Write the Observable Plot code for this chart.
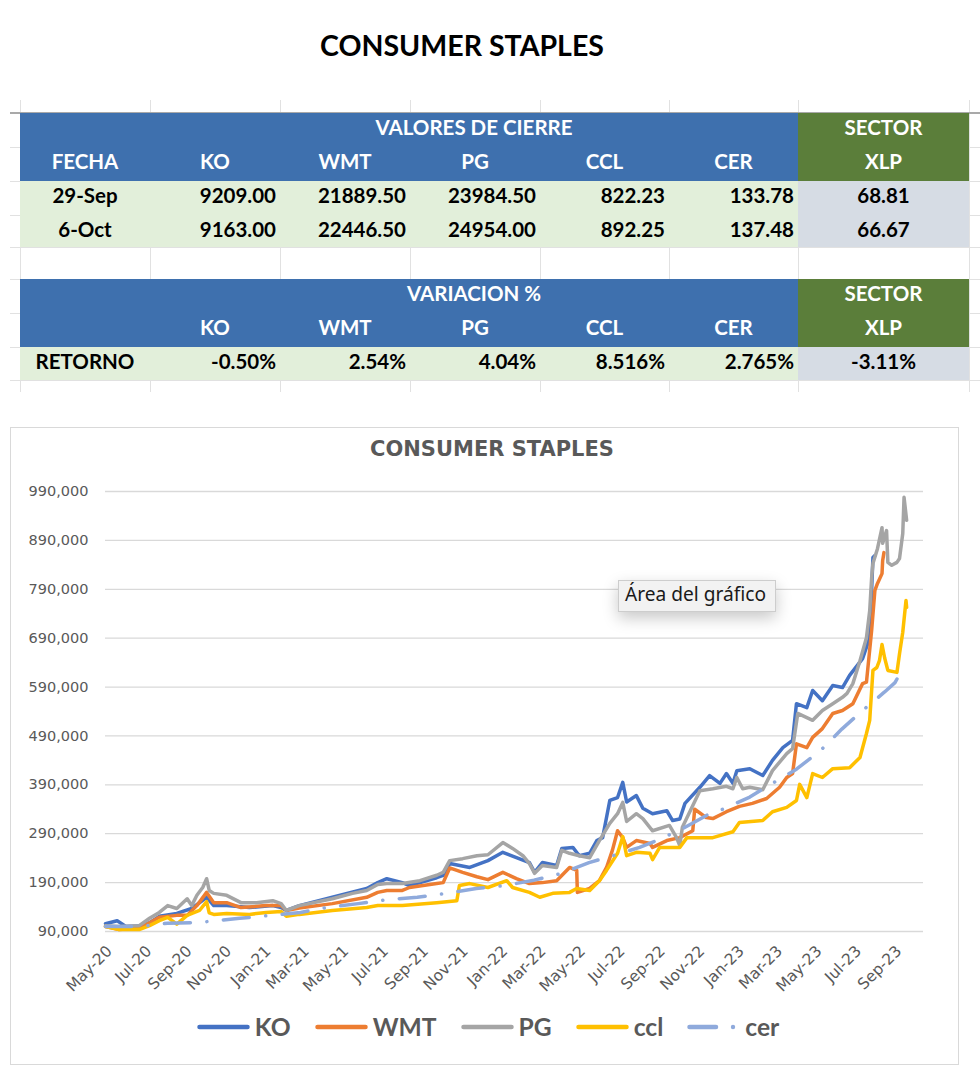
<!DOCTYPE html>
<html><head><meta charset="utf-8">
<script src="https://cdn.jsdelivr.net/npm/d3@7"></script>
<script src="https://cdn.jsdelivr.net/npm/@observablehq/plot@0.6"></script>
<style>
html,body{margin:0;padding:0;background:#fff;}
#page{position:relative;width:980px;height:1082px;overflow:hidden;font-family:Lato,sans-serif;}
#page div{box-sizing:border-box;}
</style></head>
<body><div id="page"></div>
<script>
// ---------- table data ----------
const tickers = ["KO","WMT","PG","CCL","CER"];
const fechas = ["29-Sep","6-Oct"];
const cierre29Sep = [9209.00, 21889.50, 23984.50, 822.23, 133.78];
const cierre6Oct = [9163.00, 22446.50, 24954.00, 892.25, 137.48];
const xlpCierre = [68.81, 66.67];
const retornos = ["-0.50%","2.54%","4.04%","8.516%","2.765%"];
const xlpRetorno = "-3.11%";

// ---------- chart data ----------
const xTickDates = ["2020-05-01","2020-07-01","2020-09-01","2020-11-01","2021-01-01","2021-03-01","2021-05-01","2021-07-01","2021-09-01","2021-11-01","2022-01-01","2022-03-01","2022-05-01","2022-07-01","2022-09-01","2022-11-01","2023-01-01","2023-03-01","2023-05-01","2023-07-01","2023-09-01"];
const yTickValues = [90000,190000,290000,390000,490000,590000,690000,790000,890000,990000];

const koSeries = [["2020-05-01",106000],["2020-05-19",112000],["2020-06-02",100000],["2020-06-22",101000],["2020-07-08",108000],["2020-07-23",121000],["2020-08-19",127000],["2020-09-11",137000],["2020-10-04",160000],["2020-10-15",143000],["2020-11-04",143000],["2020-12-09",139000],["2021-01-14",143000],["2021-01-27",139000],["2021-02-04",133000],["2021-02-24",143000],["2021-04-16",160000],["2021-06-08",178000],["2021-06-25",190000],["2021-07-09",198000],["2021-08-02",190000],["2021-08-13",184000],["2021-09-24",200000],["2021-10-04",205000],["2021-10-14",229000],["2021-11-14",221000],["2021-12-12",235000],["2022-01-04",252000],["2022-01-25",241000],["2022-02-14",231000],["2022-02-22",211000],["2022-03-06",231000],["2022-03-28",225000],["2022-04-05",260000],["2022-04-22",262000],["2022-05-02",245000],["2022-05-18",250000],["2022-05-29",276000],["2022-06-07",282000],["2022-06-18",358000],["2022-06-30",364000],["2022-07-08",395000],["2022-07-14",355000],["2022-07-29",368000],["2022-08-08",342000],["2022-08-23",331000],["2022-09-14",337000],["2022-09-23",317000],["2022-10-04",320000],["2022-10-12",352000],["2022-11-04",385000],["2022-11-19",409000],["2022-12-05",393000],["2022-12-15",413000],["2022-12-25",393000],["2022-12-31",419000],["2023-01-20",423000],["2023-02-09",409000],["2023-02-24",440000],["2023-03-12",466000],["2023-03-27",481000],["2023-04-02",556000],["2023-04-18",548000],["2023-04-27",583000],["2023-05-12",562000],["2023-05-28",593000],["2023-06-12",589000],["2023-06-23",614000],["2023-07-13",648000],["2023-07-24",691000],["2023-07-29",855000],["2023-08-01",859000]];

const wmtSeries = [["2020-05-01",100000],["2020-05-22",94000],["2020-06-22",97000],["2020-07-08",108000],["2020-07-23",119000],["2020-08-19",123000],["2020-09-04",123000],["2020-09-19",143000],["2020-10-04",170000],["2020-10-15",149000],["2020-11-04",149000],["2020-11-26",139000],["2021-01-04",143000],["2021-01-27",143000],["2021-02-04",133000],["2021-02-24",138000],["2021-04-16",147000],["2021-06-08",160000],["2021-06-25",170000],["2021-07-09",174000],["2021-08-02",174000],["2021-08-13",180000],["2021-09-24",188000],["2021-10-04",190000],["2021-10-14",220000],["2021-11-03",211000],["2021-11-25",202000],["2021-12-12",196000],["2022-01-04",211000],["2022-01-25",198000],["2022-02-14",188000],["2022-03-06",190000],["2022-03-28",194000],["2022-04-17",221000],["2022-04-28",215000],["2022-04-29",170000],["2022-05-18",178000],["2022-06-02",194000],["2022-06-13",221000],["2022-06-22",256000],["2022-06-30",296000],["2022-07-08",282000],["2022-07-14",262000],["2022-07-29",276000],["2022-08-19",270000],["2022-08-23",262000],["2022-09-14",276000],["2022-10-04",282000],["2022-10-24",296000],["2022-10-27",340000],["2022-11-14",323000],["2022-11-24",321000],["2022-12-15",335000],["2023-01-04",346000],["2023-01-24",352000],["2023-02-15",362000],["2023-03-07",385000],["2023-03-18",405000],["2023-03-27",413000],["2023-04-02",474000],["2023-04-18",466000],["2023-04-27",487000],["2023-05-12",505000],["2023-05-28",536000],["2023-06-12",542000],["2023-06-28",556000],["2023-07-13",597000],["2023-07-19",600000],["2023-07-27",706000],["2023-08-01",788000],["2023-08-05",802000],["2023-08-12",822000],["2023-08-13",849000],["2023-08-15",865000]];

const pgSeries = [["2020-05-01",102000],["2020-05-22",100000],["2020-06-22",102000],["2020-07-08",117000],["2020-07-23",129000],["2020-08-05",143000],["2020-08-19",137000],["2020-09-04",157000],["2020-09-11",143000],["2020-09-19",164000],["2020-09-28",180000],["2020-10-04",198000],["2020-10-08",174000],["2020-10-15",168000],["2020-11-04",164000],["2020-11-26",149000],["2020-12-20",149000],["2021-01-14",153000],["2021-01-27",147000],["2021-02-04",133000],["2021-02-24",143000],["2021-04-16",157000],["2021-05-17",168000],["2021-06-08",174000],["2021-06-25",186000],["2021-07-09",188000],["2021-08-02",188000],["2021-08-29",194000],["2021-09-24",205000],["2021-10-04",211000],["2021-10-14",235000],["2021-11-03",239000],["2021-11-25",245000],["2021-12-12",247000],["2022-01-04",272000],["2022-01-19",260000],["2022-02-04",245000],["2022-02-14",229000],["2022-02-22",209000],["2022-03-06",225000],["2022-03-28",221000],["2022-04-05",256000],["2022-04-17",250000],["2022-05-02",245000],["2022-05-18",241000],["2022-06-02",276000],["2022-06-18",311000],["2022-06-30",331000],["2022-07-08",354000],["2022-07-14",315000],["2022-07-29",331000],["2022-08-08",321000],["2022-08-23",296000],["2022-09-18",307000],["2022-09-29",282000],["2022-10-04",266000],["2022-10-08",303000],["2022-11-04",378000],["2022-11-24",382000],["2022-12-15",387000],["2022-12-25",382000],["2022-12-31",405000],["2023-01-09",382000],["2023-01-20",385000],["2023-02-09",380000],["2023-02-24",419000],["2023-03-18",454000],["2023-03-27",464000],["2023-04-04",536000],["2023-04-27",522000],["2023-05-12",542000],["2023-05-28",556000],["2023-06-12",569000],["2023-06-19",577000],["2023-06-28",597000],["2023-07-09",644000],["2023-07-19",691000],["2023-07-24",746000],["2023-07-27",814000],["2023-07-29",843000],["2023-08-05",873000],["2023-08-12",916000],["2023-08-13",884000],["2023-08-19",910000],["2023-08-21",845000],["2023-08-27",839000],["2023-09-04",845000],["2023-09-08",853000],["2023-09-13",904000],["2023-09-15",978000],["2023-09-19",931000]];

const cclSeries = [["2020-05-01",100000],["2020-05-22",94000],["2020-06-22",94000],["2020-07-08",102000],["2020-07-23",112000],["2020-08-05",119000],["2020-08-19",105000],["2020-09-04",123000],["2020-09-23",133000],["2020-10-04",151000],["2020-10-08",128000],["2020-10-15",125000],["2020-11-04",127000],["2020-12-09",125000],["2021-01-04",129000],["2021-01-27",131000],["2021-02-04",121000],["2021-02-24",125000],["2021-04-16",133000],["2021-06-08",139000],["2021-06-25",143000],["2021-08-02",143000],["2021-09-24",149000],["2021-10-25",153000],["2021-10-29",184000],["2021-11-14",188000],["2021-12-12",180000],["2022-01-10",194000],["2022-01-19",180000],["2022-02-14",170000],["2022-03-02",160000],["2022-03-22",168000],["2022-04-17",170000],["2022-04-28",178000],["2022-05-18",174000],["2022-06-02",194000],["2022-06-13",215000],["2022-06-30",250000],["2022-07-08",284000],["2022-07-14",245000],["2022-07-29",252000],["2022-08-19",250000],["2022-08-23",237000],["2022-09-03",262000],["2022-10-04",262000],["2022-10-15",282000],["2022-11-24",282000],["2022-12-25",294000],["2023-01-04",313000],["2023-02-09",317000],["2023-02-24",335000],["2023-03-18",344000],["2023-04-02",358000],["2023-04-07",391000],["2023-04-18",364000],["2023-04-27",413000],["2023-05-12",405000],["2023-05-28",423000],["2023-06-23",425000],["2023-07-09",446000],["2023-07-19",495000],["2023-07-24",522000],["2023-07-29",624000],["2023-08-04",630000],["2023-08-08",644000],["2023-08-12",677000],["2023-08-16",650000],["2023-08-21",624000],["2023-09-04",620000],["2023-09-08",658000],["2023-09-13",702000],["2023-09-18",767000],["2023-09-19",753000]];

const cerSeries = [["2020-05-01",100000],["2020-06-22",100000],["2020-08-05",107000],["2020-09-19",108000],["2020-10-10",111000],["2020-11-24",117000],["2021-01-11",123000],["2021-02-26",129000],["2021-04-11",140000],["2021-05-26",147000],["2021-07-09",155000],["2021-08-25",160000],["2021-10-09",168000],["2021-11-24",178000],["2022-01-07",184000],["2022-02-21",195000],["2022-04-05",209000],["2022-05-17",231000],["2022-06-28",247000],["2022-08-03",262000],["2022-08-29",276000],["2022-10-08",300000],["2022-11-19",331000],["2022-12-09",340000],["2023-01-20",365000],["2023-02-24",393000],["2023-04-02",422000],["2023-05-09",460000],["2023-06-11",504000],["2023-07-13",542000],["2023-08-16",580000],["2023-09-01",599000],["2023-09-13",628000]];

const seriesNames = ["KO","WMT","PG","ccl","cer"];
const seriesColors = ["#4472C4","#ED7D31","#A5A5A5","#FFC000","#8FAADC"];
const seriesData = [koSeries, wmtSeries, pgSeries, cclSeries, cerSeries];

// ---------- helpers ----------
const page = document.getElementById("page");
function el(tag, css, text, parent = page) {
  const e = document.createElement(tag);
  Object.assign(e.style, css);
  if (text != null) e.textContent = text;
  parent.appendChild(e);
  return e;
}
const ctx = document.createElement("canvas").getContext("2d");
function fitSize(text, weight, family, target) {
  ctx.font = weight + " 100px " + family;
  return 100 * target / ctx.measureText(text).width;
}
function rect(x, y, w, h, bg) {
  return el("div", {position: "absolute", left: x + "px", top: y + "px", width: w + "px", height: h + "px", background: bg});
}

// ---------- page title ----------
{
  const s = fitSize("CONSUMER STAPLES", "bold", "Lato", 284);
  el("div", {position: "absolute", left: "0px", width: "924px", top: (46 - s * 0.62) + "px",
    textAlign: "center", font: `bold ${s}px Lato`, lineHeight: (s * 1.2) + "px", color: "#000"}, "CONSUMER STAPLES");
}

// ---------- spreadsheet table ----------
const colX = [20, 150, 280, 410, 540, 669, 798, 969];
const rowY = [113, 147, 181, 215, 247, 279, 313, 347, 380];
const gridC = "#e1e1e1";
colX.forEach(x => rect(x, 100, 1, 292, gridC));
rowY.forEach(y => rect(10, y, 970, 1, gridC));
rect(10, 112, 970, 2, "#a9a9a9");
const BLUE = "#3E70AE", GREEN = "#5B7E3A", LGREEN = "#E2EFDA", GREY = "#D6DCE4";
rect(20, 113, 778, 68, BLUE); rect(798, 113, 171, 68, GREEN);
rect(20, 181, 778, 66, LGREEN); rect(798, 181, 171, 66, GREY);
rect(20, 279, 778, 68, BLUE); rect(798, 279, 171, 68, GREEN);
rect(20, 347, 778, 33, LGREEN); rect(798, 347, 171, 33, GREY);

function cell(text, x0, x1, y0, y1, align, color) {
  el("div", {position: "absolute", left: x0 + "px", top: (y0 + 2) + "px", width: (x1 - x0) + "px", height: (y1 - y0) + "px",
    lineHeight: (y1 - y0) + "px", textAlign: align, paddingRight: align === "right" ? "4px" : "0px",
    font: "bold 20.5px Lato", color: color, whiteSpace: "nowrap"}, text);
}
const W = "#ffffff", K = "#000000";
cell("VALORES DE CIERRE", 150, 798, 113, 147, "center", W);
cell("SECTOR", 798, 969, 113, 147, "center", W);
cell("FECHA", 20, 150, 147, 181, "center", W);
tickers.forEach((t, i) => cell(t, colX[i + 1], colX[i + 2], 147, 181, "center", W));
cell("XLP", 798, 969, 147, 181, "center", W);
[cierre29Sep, cierre6Oct].forEach((vals, r) => {
  const y0 = [181, 215][r], y1 = [215, 247][r];
  cell(fechas[r], 20, 150, y0, y1, "center", K);
  vals.forEach((v, i) => cell(v.toFixed(2), colX[i + 1], colX[i + 2], y0, y1, "right", K));
  cell(xlpCierre[r].toFixed(2), 798, 969, y0, y1, "center", K);
});
cell("VARIACION %", 150, 798, 279, 313, "center", W);
cell("SECTOR", 798, 969, 279, 313, "center", W);
tickers.forEach((t, i) => cell(t, colX[i + 1], colX[i + 2], 313, 347, "center", W));
cell("XLP", 798, 969, 313, 347, "center", W);
cell("RETORNO", 20, 150, 347, 380, "center", K);
retornos.forEach((v, i) => cell(v, colX[i + 1], colX[i + 2], 347, 380, "right", K));
cell(xlpRetorno, 798, 969, 347, 380, "center", K);

// ---------- chart box ----------
el("div", {position: "absolute", left: "10px", top: "427px", width: "949px", height: "638px", border: "1px solid #d9d9d9", background: "#fff"});
{
  const s = fitSize("CONSUMER STAPLES", "bold", "'DejaVu Sans'", 244);
  el("div", {position: "absolute", left: "0px", width: "984px", top: (450 - s * 0.62) + "px", textAlign: "center",
    font: `bold ${s}px 'DejaVu Sans'`, lineHeight: (s * 1.2) + "px", color: "#595959"}, "CONSUMER STAPLES");
}

const parse = d3.utcParse("%Y-%m-%d");
const rows = seriesData.flatMap((ser, k) => ser.map(([d, v]) => ({serie: seriesNames[k], date: parse(d), value: v})));
const cerDash = "26,16.5,0.1,16.5";

const chart = Plot.plot({
  width: 949, height: 540,
  marginLeft: 95, marginRight: 36, marginTop: 21, marginBottom: 79,
  style: {background: "transparent", fontFamily: "'DejaVu Sans'", fontSize: "14.5px", color: "#595959", overflow: "visible"},
  x: {type: "utc", domain: [parse("2020-05-01"), parse("2023-10-15")]},
  y: {domain: [90000, 990000]},
  marks: [
    Plot.ruleY(yTickValues, {stroke: "#d9d9d9", strokeWidth: 1.3}),
    Plot.axisY(yTickValues, {tickSize: 0, tickPadding: 17, tickFormat: d3.format(","), label: null, fontSize: 14.5}),
    Plot.axisX(xTickDates.map(parse), {tickSize: 0, tickPadding: 10, tickRotate: -45, tickFormat: d3.utcFormat("%b-%y"),
      label: null, fontSize: 15.5, dx: 4, dy: 7}),
    ...seriesNames.map((name, k) => Plot.line(rows.filter(r => r.serie === name), {
      x: "date", y: "value", stroke: seriesColors[k], strokeWidth: 3.5,
      strokeLinejoin: "round", strokeLinecap: "round",
      strokeDasharray: name === "cer" ? cerDash : null
    }))
  ]
});
const holder = el("div", {position: "absolute", left: "10px", top: "470px"});
holder.appendChild(chart);

// ---------- legend ----------
{
  const s = fitSize(seriesNames.join(""), "bold", "Lato", 196);
  const leg = el("div", {position: "absolute", left: "0px", width: "976px", top: (1027 - 20) + "px", height: "40px",
    display: "flex", justifyContent: "center", alignItems: "center", gap: "24px"});
  seriesNames.forEach((name, k) => {
    const item = el("div", {display: "flex", alignItems: "center"}, null, leg);
    const svg = d3.select(item).append("svg").attr("width", 53).attr("height", 12).style("display", "block");
    if (name === "cer") {
      svg.append("line").attr("x1", 2.5).attr("x2", 29).attr("y1", 6).attr("y2", 6)
        .attr("stroke", seriesColors[k]).attr("stroke-width", 4.5).attr("stroke-linecap", "round");
      svg.append("circle").attr("cx", 46).attr("cy", 6).attr("r", 2.2).attr("fill", seriesColors[k]);
    } else {
      svg.append("line").attr("x1", 2.5).attr("x2", 50.5).attr("y1", 6).attr("y2", 6)
        .attr("stroke", seriesColors[k]).attr("stroke-width", 4.5).attr("stroke-linecap", "round");
    }
    el("span", {marginLeft: "5px", font: `bold ${s}px Lato`, color: "#595959", lineHeight: "40px"}, name, item);
  });
}

// ---------- tooltip ----------
{
  const tip = el("div", {position: "absolute", left: "618px", top: "580px", width: "158px", height: "32px",
    background: "#f2f2f2", border: "1px solid #cdcdcd", boxShadow: "0 6px 16px rgba(0,0,0,0.22)", zIndex: 5});
  const s = fitSize("Área del gráfico", "normal", "'Noto Sans'", 141);
  el("div", {position: "absolute", left: "6px", top: "0px", height: "30px", lineHeight: "30px",
    font: `${s}px 'Noto Sans'`, color: "#1a1a1a", whiteSpace: "nowrap"}, "Área del gráfico", tip);
}
</script>
</body></html>
